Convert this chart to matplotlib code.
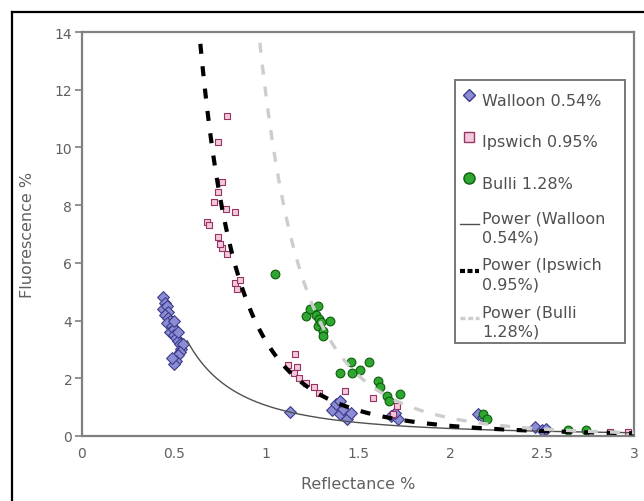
import numpy as np
import matplotlib
matplotlib.use("Agg")
import matplotlib.pyplot as plt
from matplotlib.lines import Line2D

plt.rcParams['font.family'] = ['DejaVu Sans']

# --- data (Reflectance %, Fluorescence %) ---
walloon_x = [0.44, 0.45, 0.44, 0.46, 0.47, 0.45, 0.47, 0.48, 0.46, 0.49, 0.48, 0.50, 0.50,
             0.51, 0.52, 0.53, 0.54, 0.55, 0.53, 0.52, 0.51, 0.50, 0.49, 0.52, 0.50,
             1.13, 1.36, 1.38, 1.40, 1.42, 1.44, 1.46, 1.40, 1.68, 1.72, 1.70,
             2.15, 2.18, 2.46, 2.50, 2.52]
walloon_y = [4.8, 4.6, 4.4, 4.5, 4.3, 4.2, 4.1, 4.0, 3.9, 3.8, 3.6, 3.7, 3.5,
             3.4, 3.3, 3.2, 3.0, 3.2, 2.9, 2.8, 2.6, 2.5, 2.7, 3.6, 4.0,
             0.83, 0.9, 1.1, 0.75, 0.95, 0.6, 0.8, 1.2, 0.7, 0.6, 0.8,
             0.75, 0.65, 0.3, 0.22, 0.25]

ipswich_x = [0.79, 0.74, 0.76, 0.74, 0.72, 0.78, 0.83, 0.68, 0.74, 0.76, 0.75, 0.79,
             0.83, 0.84, 0.86, 0.69,
             1.16, 1.12, 1.17, 1.15, 1.18, 1.22, 1.26, 1.29, 1.43, 1.58, 1.69, 1.71,
             2.87, 2.97]
ipswich_y = [11.1, 10.2, 8.8, 8.45, 8.1, 7.85, 7.75, 7.4, 6.9, 6.5, 6.65, 6.3,
             5.3, 5.1, 5.4, 7.3,
             2.85, 2.45, 2.4, 2.2, 2.0, 1.85, 1.7, 1.5, 1.55, 1.3, 0.75, 1.05,
             0.15, 0.15]

bulli_x = [1.05, 1.22, 1.25, 1.28, 1.27, 1.29, 1.35, 1.28, 1.31, 1.31, 1.24, 1.30,
           1.40, 1.46, 1.51, 1.56, 1.47, 1.61, 1.62, 1.66, 1.73, 1.67,
           2.18, 2.20, 2.64, 2.74]
bulli_y = [5.6, 4.15, 4.4, 4.5, 4.2, 4.05, 4.0, 3.8, 3.65, 3.45, 4.4, 3.95,
           2.2, 2.55, 2.3, 2.55, 2.2, 1.9, 1.7, 1.4, 1.45, 1.2,
           0.75, 0.6, 0.2, 0.22]

# power trendlines y = a * x^b
walloon_fit = (1.06, -2.03, 0.57)   # a, b, x start
ipswich_fit = (3.28, -3.22, 0.60)
bulli_fit = (11.8, -4.24, 0.94)

fig = plt.figure(figsize=(6.44, 5.02), dpi=100)
ax = fig.add_axes([82/644, 65/502, 552/644, 404/502])

ax.scatter(walloon_x, walloon_y, marker='D', s=6.0**2, facecolor='#8c8cd4',
           edgecolor='#3c3c8c', linewidth=0.8, zorder=2)
ax.scatter(ipswich_x, ipswich_y, marker='s', s=4.5**2, facecolor='#f2cadb',
           edgecolor='#993366', linewidth=0.8, zorder=2)
ax.scatter(bulli_x, bulli_y, marker='o', s=6.3**2, facecolor='#2fa62f',
           edgecolor='#0b5e0b', linewidth=0.8, zorder=2)

for (a, b, x0), kw in [(walloon_fit, dict(color='#505050', lw=1.0)),
                       (ipswich_fit, dict(color='black', lw=3.0, dashes=(2.4, 3.0))),
                       (bulli_fit, dict(color='#cdcdcd', lw=2.4, dashes=(3.0, 3.6)))]:
    xs = np.linspace(x0, 3.0, 400)
    ax.plot(xs, a * xs ** b, solid_capstyle='butt', dash_capstyle='butt', zorder=3, **kw)

ax.set_xlim(0, 3)
ax.set_ylim(0, 14)
ax.set_xticks([0, 0.5, 1, 1.5, 2, 2.5, 3])
ax.set_xticklabels(['0', '0.5', '1', '1.5', '2', '2.5', '3'])
ax.set_yticks(range(0, 15, 2))
for s in ax.spines.values():
    s.set_color('#808080')
    s.set_linewidth(1.6)
ax.tick_params(axis='y', direction='out', length=5, width=1.2, color='#808080',
               labelsize=10, labelcolor='#606060', pad=2)
ax.tick_params(axis='x', length=0, labelsize=10, labelcolor='#606060', pad=7)
ax.set_xlabel('Reflectance %', fontsize=11.5, color='#606060', labelpad=12)
ax.set_ylabel('Fluorescence %', fontsize=11.5, color='#606060', labelpad=14)

handles = [
    Line2D([], [], ls='none', marker='D', ms=6.5, mfc='#8c8cd4', mec='#3c3c8c'),
    Line2D([], [], ls='none', marker='s', ms=6.5, mfc='#f2cadb', mec='#993366'),
    Line2D([], [], ls='none', marker='o', ms=8, mfc='#2fa62f', mec='#0b5e0b'),
    Line2D([], [], color='#505050', lw=1.0),
    Line2D([], [], color='black', lw=3.0, dashes=(1.2, 0.6)),
    Line2D([], [], color='#cdcdcd', lw=2.4, dashes=(1.5, 0.8)),
]
labels = ['Walloon 0.54%', 'Ipswich 0.95%', 'Bulli 1.28%',
          'Power (Walloon\n0.54%)', 'Power (Ipswich\n0.95%)', 'Power (Bulli\n1.28%)']
leg = ax.legend(handles, labels, loc='upper left',
                bbox_to_anchor=(455/644, 1 - 82/502, 170/644, 0.001), mode='expand',
                bbox_transform=fig.transFigure, fontsize=11.5, frameon=True,
                fancybox=False, edgecolor='#555555', handlelength=1.2,
                handletextpad=0.2, handleheight=2.4, labelspacing=0.8,
                borderpad=0.3, borderaxespad=0)
leg.get_frame().set_linewidth(1.4)
for t in leg.get_texts():
    t.set_color('#505050')
    t.set_linespacing(1.35)

# outer black frame (cropped at right and bottom)
fig.add_artist(Line2D([12/644, 12/644], [0, 1 - 13/502], color='black', lw=1.6))
fig.add_artist(Line2D([12/644, 1], [1 - 13/502, 1 - 13/502], color='black', lw=1.6))

fig.savefig('out.png', dpi=100)
